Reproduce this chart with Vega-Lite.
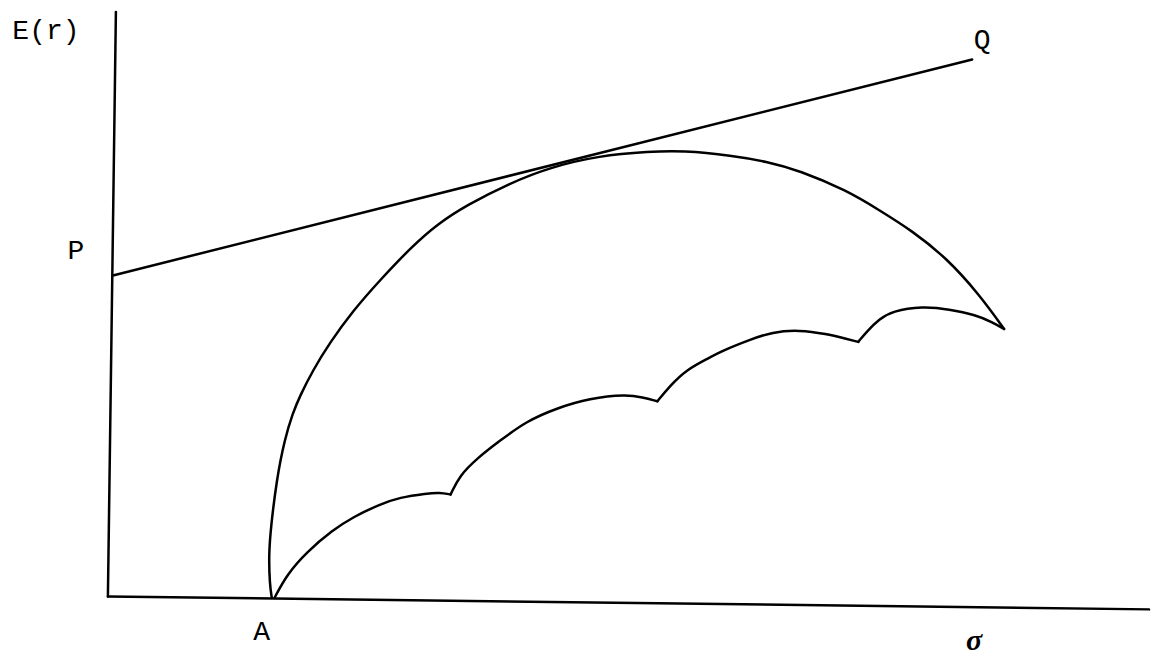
{
  "$schema": "https://vega.github.io/schema/vega-lite/v6.json",
  "width": 1151,
  "height": 656,
  "padding": 0,
  "autosize": {"type": "fit", "contains": "padding"},
  "background": "white",
  "config": {"view": {"stroke": null}},
  "datasets": {
    "lines": [
      {"id": "vaxis", "i": 0, "x": 0.08, "y": 5.90},
      {"id": "vaxis", "i": 1, "x": 0.00, "y": 0.00},
      {"id": "haxis", "i": 0, "x": 0.00, "y": 0.00},
      {"id": "haxis", "i": 1, "x": 10.42, "y": -0.13},
      {"id": "PQ", "i": 0, "x": 0.05, "y": 3.24},
      {"id": "PQ", "i": 1, "x": 8.65, "y": 5.42},
      {"id": "frontier", "i": 0, "x": 1.64, "y": -0.01},
      {"id": "frontier", "i": 1, "x": 1.62, "y": 0.12},
      {"id": "frontier", "i": 2, "x": 1.61, "y": 0.42},
      {"id": "frontier", "i": 3, "x": 1.63, "y": 0.69},
      {"id": "frontier", "i": 4, "x": 1.69, "y": 1.19},
      {"id": "frontier", "i": 5, "x": 1.77, "y": 1.59},
      {"id": "frontier", "i": 6, "x": 1.85, "y": 1.85},
      {"id": "frontier", "i": 7, "x": 1.92, "y": 2.02},
      {"id": "frontier", "i": 8, "x": 2.05, "y": 2.28},
      {"id": "frontier", "i": 9, "x": 2.22, "y": 2.56},
      {"id": "frontier", "i": 10, "x": 2.45, "y": 2.88},
      {"id": "frontier", "i": 11, "x": 2.72, "y": 3.19},
      {"id": "frontier", "i": 12, "x": 3.05, "y": 3.54},
      {"id": "frontier", "i": 13, "x": 3.30, "y": 3.76},
      {"id": "frontier", "i": 14, "x": 3.59, "y": 3.95},
      {"id": "frontier", "i": 15, "x": 4.02, "y": 4.17},
      {"id": "frontier", "i": 16, "x": 4.42, "y": 4.33},
      {"id": "frontier", "i": 17, "x": 4.92, "y": 4.45},
      {"id": "frontier", "i": 18, "x": 5.42, "y": 4.49},
      {"id": "frontier", "i": 19, "x": 5.75, "y": 4.50},
      {"id": "frontier", "i": 20, "x": 6.25, "y": 4.45},
      {"id": "frontier", "i": 21, "x": 6.59, "y": 4.39},
      {"id": "frontier", "i": 22, "x": 6.92, "y": 4.30},
      {"id": "frontier", "i": 23, "x": 7.39, "y": 4.10},
      {"id": "frontier", "i": 24, "x": 7.72, "y": 3.90},
      {"id": "frontier", "i": 25, "x": 8.05, "y": 3.69},
      {"id": "frontier", "i": 26, "x": 8.39, "y": 3.42},
      {"id": "frontier", "i": 27, "x": 8.72, "y": 3.05},
      {"id": "frontier", "i": 28, "x": 8.97, "y": 2.70},
      {"id": "s1", "i": 0, "x": 1.67, "y": -0.01},
      {"id": "s1", "i": 1, "x": 1.79, "y": 0.22},
      {"id": "s1", "i": 2, "x": 1.99, "y": 0.45},
      {"id": "s1", "i": 3, "x": 2.25, "y": 0.67},
      {"id": "s1", "i": 4, "x": 2.45, "y": 0.80},
      {"id": "s1", "i": 5, "x": 2.72, "y": 0.93},
      {"id": "s1", "i": 6, "x": 2.92, "y": 1.00},
      {"id": "s1", "i": 7, "x": 3.19, "y": 1.04},
      {"id": "s1", "i": 8, "x": 3.32, "y": 1.05},
      {"id": "s1", "i": 9, "x": 3.43, "y": 1.03},
      {"id": "s2", "i": 0, "x": 3.43, "y": 1.03},
      {"id": "s2", "i": 1, "x": 3.52, "y": 1.22},
      {"id": "s2", "i": 2, "x": 3.69, "y": 1.39},
      {"id": "s2", "i": 3, "x": 3.92, "y": 1.57},
      {"id": "s2", "i": 4, "x": 4.19, "y": 1.77},
      {"id": "s2", "i": 5, "x": 4.49, "y": 1.90},
      {"id": "s2", "i": 6, "x": 4.82, "y": 2.00},
      {"id": "s2", "i": 7, "x": 5.19, "y": 2.04},
      {"id": "s2", "i": 8, "x": 5.35, "y": 2.01},
      {"id": "s2", "i": 9, "x": 5.50, "y": 1.97},
      {"id": "s3", "i": 0, "x": 5.50, "y": 1.97},
      {"id": "s3", "i": 1, "x": 5.62, "y": 2.12},
      {"id": "s3", "i": 2, "x": 5.79, "y": 2.29},
      {"id": "s3", "i": 3, "x": 6.02, "y": 2.41},
      {"id": "s3", "i": 4, "x": 6.15, "y": 2.48},
      {"id": "s3", "i": 5, "x": 6.42, "y": 2.59},
      {"id": "s3", "i": 6, "x": 6.65, "y": 2.67},
      {"id": "s3", "i": 7, "x": 6.92, "y": 2.69},
      {"id": "s3", "i": 8, "x": 7.19, "y": 2.65},
      {"id": "s3", "i": 9, "x": 7.39, "y": 2.60},
      {"id": "s3", "i": 10, "x": 7.51, "y": 2.57},
      {"id": "s4", "i": 0, "x": 7.51, "y": 2.57},
      {"id": "s4", "i": 1, "x": 7.60, "y": 2.68},
      {"id": "s4", "i": 2, "x": 7.72, "y": 2.80},
      {"id": "s4", "i": 3, "x": 7.85, "y": 2.88},
      {"id": "s4", "i": 4, "x": 8.15, "y": 2.93},
      {"id": "s4", "i": 5, "x": 8.42, "y": 2.90},
      {"id": "s4", "i": 6, "x": 8.69, "y": 2.84},
      {"id": "s4", "i": 7, "x": 8.85, "y": 2.77},
      {"id": "s4", "i": 8, "x": 8.97, "y": 2.70}
    ],
    "labels": [
      {"label": "E(r)", "x": -0.62, "y": 5.71},
      {"label": "Q", "x": 8.75, "y": 5.62},
      {"label": "P", "x": -0.32, "y": 3.49},
      {"label": "A", "x": 1.54, "y": -0.36}
    ],
    "sigma": [
      {"label": "σ", "x": 8.67, "y": -0.45}
    ]
  },
  "layer": [
    {
      "data": {"name": "lines"},
      "mark": {"type": "line", "color": "black", "strokeWidth": 2.5, "interpolate": "basis", "strokeCap": "round", "strokeJoin": "round"},
      "encoding": {
        "x": {"field": "x", "type": "quantitative", "scale": {"domain": [-1.08, 10.43], "nice": false, "zero": false}, "axis": null},
        "y": {"field": "y", "type": "quantitative", "scale": {"domain": [-0.54, 6.02], "nice": false, "zero": false}, "axis": null},
        "detail": {"field": "id"},
        "order": {"field": "i", "type": "quantitative"}
      }
    },
    {
      "data": {"name": "labels"},
      "mark": {"type": "text", "font": "Liberation Mono", "fontSize": 28, "color": "black", "align": "center", "baseline": "middle"},
      "encoding": {
        "x": {"field": "x", "type": "quantitative", "scale": {"domain": [-1.08, 10.43], "nice": false, "zero": false}, "axis": null},
        "y": {"field": "y", "type": "quantitative", "scale": {"domain": [-0.54, 6.02], "nice": false, "zero": false}, "axis": null},
        "text": {"field": "label"}
      }
    },
    {
      "data": {"name": "sigma"},
      "mark": {"type": "text", "font": "Liberation Serif", "fontSize": 30, "fontStyle": "italic", "fontWeight": "bold", "color": "black", "align": "center", "baseline": "middle"},
      "encoding": {
        "x": {"field": "x", "type": "quantitative", "scale": {"domain": [-1.08, 10.43], "nice": false, "zero": false}, "axis": null},
        "y": {"field": "y", "type": "quantitative", "scale": {"domain": [-0.54, 6.02], "nice": false, "zero": false}, "axis": null},
        "text": {"field": "label"}
      }
    }
  ]
}
